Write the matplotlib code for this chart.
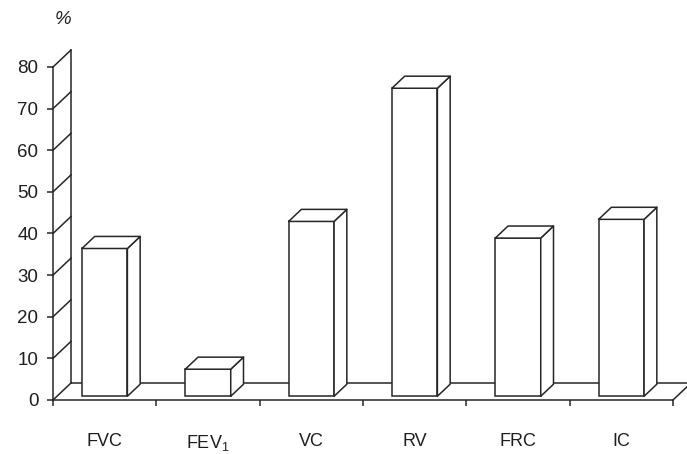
import matplotlib
matplotlib.use("Agg")
import matplotlib.pyplot as plt
from matplotlib.patches import Polygon
from matplotlib.ticker import FixedLocator

plt.rcParams["font.family"] = ["Liberation Sans", "DejaVu Sans"]
plt.rcParams["mathtext.default"] = "regular"

# Lung function parameters, % change
categories = ["FVC", "FEV$_1$", "VC", "RV", "FRC", "IC"]
values = [35.5, 6.5, 42, 74, 38, 42.5]
y_ticks = [0, 10, 20, 30, 40, 50, 60, 70, 80]
y_unit = "%"

ink = "#262626"
text_c = "#1e1e1e"
lw = 1.1

fig = plt.figure(figsize=(6.87, 4.54), dpi=100)
fig.patch.set_facecolor("white")
ax = fig.add_axes([53 / 687, 54 / 454, 620 / 687, 333 / 454])
ax.set_facecolor("none")

n = len(categories)
xs = list(range(n))
x_lo, x_hi = -0.5, n - 0.5
ax.set_xlim(x_lo, x_hi)
ax.set_ylim(0, 80)

# oblique depth of the wall/floor box (in data units)
DX, DY = 0.174, 4.08
# bars occupy this slice of the depth
f0, f1 = 0.22, 0.93
bw = 0.44

# back wall, wall grid ticks and floor
ax.plot([x_lo + DX, x_lo + DX], [DY, 80 + DY], color=ink, lw=lw,
        clip_on=False, zorder=1)
for t in y_ticks:
    ax.plot([x_lo, x_lo + DX], [t, t + DY], color=ink, lw=lw,
            clip_on=False, zorder=1)
ax.plot([x_lo + DX, x_hi + DX], [DY, DY], color=ink, lw=lw,
        clip_on=False, zorder=1)
ax.plot([x_hi, x_hi + DX], [0, DY], color=ink, lw=lw,
        clip_on=False, zorder=1)

# 3D columns: front faces from the values, then top and side faces
base = f0 * DY
ddx, ddy = (f1 - f0) * DX, (f1 - f0) * DY
bars = ax.bar(xs, values, width=bw, bottom=base, facecolor="white",
              edgecolor=ink, linewidth=lw, zorder=3)
for rect, v in zip(bars, values):
    x0 = rect.get_x()
    x1 = x0 + rect.get_width()
    top = base + v
    top_face = Polygon([(x0, top), (x1, top), (x1 + ddx, top + ddy),
                        (x0 + ddx, top + ddy)], closed=True,
                       facecolor="white", edgecolor=ink, lw=lw,
                       joinstyle="round", zorder=3, clip_on=False)
    side_face = Polygon([(x1, base), (x1 + ddx, base + ddy),
                         (x1 + ddx, top + ddy), (x1, top)], closed=True,
                        facecolor="white", edgecolor=ink, lw=lw,
                        joinstyle="round", zorder=3, clip_on=False)
    ax.add_patch(side_face)
    ax.add_patch(top_face)

# axes lines
for s in ["top", "right"]:
    ax.spines[s].set_visible(False)
ax.spines["left"].set_bounds(0, 80)
for s in ["left", "bottom"]:
    ax.spines[s].set_color(ink)
    ax.spines[s].set_linewidth(lw)
    ax.spines[s].set_zorder(2)

ax.set_yticks(y_ticks)
ax.set_yticklabels([str(t) for t in y_ticks])
ax.tick_params(axis="y", direction="out", length=4.5, width=lw,
               color=ink, pad=6, labelsize=13.5, labelcolor=text_c)

ax.set_xticks(xs)
ax.set_xticklabels(categories)
ax.xaxis.set_minor_locator(FixedLocator([i - 0.5 for i in range(n + 1)]))
ax.tick_params(axis="x", which="major", length=0, pad=24,
               labelsize=13, labelcolor=text_c)
ax.tick_params(axis="x", which="minor", direction="out", length=4.5,
               width=lw, color=ink)

ax.text(x_lo + 0.1, 91.5, y_unit, ha="center", va="center", fontsize=13.5,
        color=text_c, style="italic", clip_on=False)

fig.savefig("out.png", dpi=100)
